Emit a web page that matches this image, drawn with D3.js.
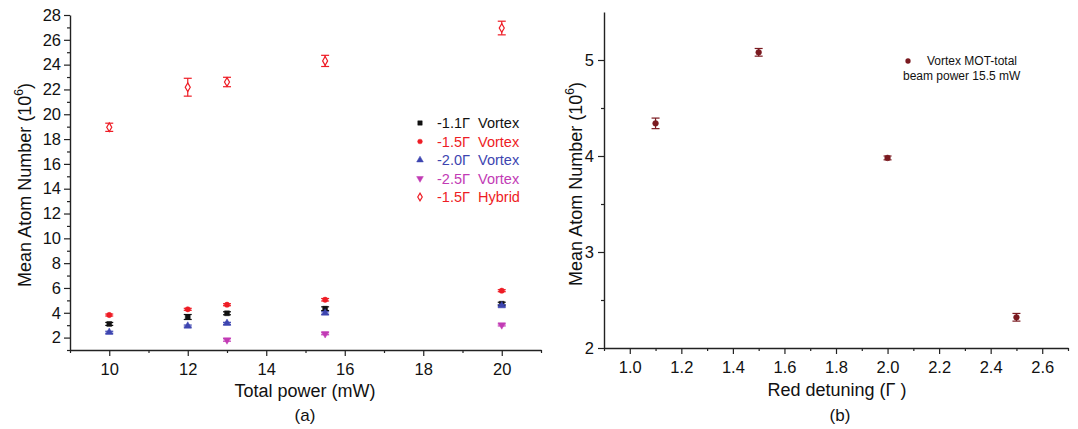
<!DOCTYPE html>
<html>
<head>
<meta charset="utf-8">
<script src="https://cdn.jsdelivr.net/npm/d3@7"></script>
<style>
  body { margin: 0; background: #fff; }
  svg { font-family: "Liberation Sans", Arial, sans-serif; }
</style>
</head>
<body>
<svg id="chart" width="1078" height="429"></svg>
<script>
// ---- data, panel (a)
var powers = [10, 12, 13, 15.5, 20];
var vortex11 = [3.10, 3.66, 3.96, 4.33, 4.73];
var err11 = [0.12, 0.20, 0.12, 0.15, 0.12];
var vortex15 = [3.82, 4.28, 4.65, 5.05, 5.78];
var err15 = [0.08, 0.08, 0.08, 0.1, 0.08];
var vortex20 = [2.43, 2.93, 3.15, 3.98, 4.57];
var err20 = [0.08, 0.08, 0.08, 0.1, 0.08];
var powers25 = [13, 15.5, 20];
var vortex25 = [1.81, 2.31, 3.02];
var err25 = [0.1, 0.08, 0.08];
var hybrid15 = [18.95, 22.18, 22.6, 24.3, 26.95];
var errHybrid = [0.33, 0.72, 0.38, 0.45, 0.55];
var xTicksA = [10, 12, 14, 16, 18, 20];
var yTicksA = [2, 4, 6, 8, 10, 12, 14, 16, 18, 20, 22, 24, 26, 28];

// ---- data, panel (b)
var detuning = [1.1, 1.5, 2.0, 2.5];
var atomsB = [4.34, 5.08, 3.98, 2.32];
var errB = [0.055, 0.04, 0.02, 0.04];
var xTicksB = [1.0, 1.2, 1.4, 1.6, 1.8, 2.0, 2.2, 2.4, 2.6];
var yTicksB = [2, 3, 4, 5];

var svg = d3.select('#chart');

var seriesA = [
  {name: '-1.1\u0393  Vortex', x: powers, y: vortex11, e: err11, color: '#111111', sym: d3.symbolSquare, size: 24, open: false, rot: 0},
  {name: '-1.5\u0393  Vortex', x: powers, y: vortex15, e: err15, color: '#ee1c25', sym: d3.symbolCircle, size: 22, open: false, rot: 0},
  {name: '-2.0\u0393  Vortex', x: powers, y: vortex20, e: err20, color: '#3d45b0', sym: d3.symbolTriangle, size: 24, open: false, rot: 0},
  {name: '-2.5\u0393  Vortex', x: powers25, y: vortex25, e: err25, color: '#c23bb5', sym: d3.symbolTriangle, size: 24, open: false, rot: 180},
  {name: '-1.5\u0393  Hybrid', x: powers, y: hybrid15, e: errHybrid, color: '#ee1c25', sym: d3.symbolDiamond, size: 22, open: true, rot: 0}
];

function styleAxis(g) {
  g.selectAll('path').attr('stroke', '#222').attr('stroke-width', 1.4);
  g.selectAll('line').attr('stroke', '#222').attr('stroke-width', 1.2);
  g.selectAll('text').attr('font-size', 16.5).attr('fill', '#111');
}

function drawPoints(g, xs, ys, s) {
  var pts = s.x.map(function(v, i) { return {x: v, y: s.y[i], e: s.e[i]}; });
  var grp = g.append('g');
  pts.forEach(function(p) {
    var cx = xs(p.x), top = ys(p.y + p.e), bot = ys(p.y - p.e);
    grp.append('line').attr('x1', cx).attr('x2', cx).attr('y1', top).attr('y2', bot)
      .attr('stroke', s.color).attr('stroke-width', 1.2);
    [top, bot].forEach(function(yy) {
      grp.append('line').attr('x1', cx - 4).attr('x2', cx + 4).attr('y1', yy).attr('y2', yy)
        .attr('stroke', s.color).attr('stroke-width', 1.2);
    });
    grp.append('path')
      .attr('d', d3.symbol().type(s.sym).size(s.size)())
      .attr('transform', 'translate(' + cx + ',' + ys(p.y) + ') rotate(' + s.rot + ')')
      .attr('fill', s.open ? '#fff' : s.color)
      .attr('stroke', s.color).attr('stroke-width', s.open ? 1.2 : 0.5);
  });
}

function yTitle(x, y) {
  var t = svg.append('text')
    .attr('transform', 'translate(' + x + ',' + y + ') rotate(-90)')
    .attr('text-anchor', 'middle').attr('font-size', 18).attr('fill', '#111');
  t.append('tspan').text('Mean Atom Number (10');
  t.append('tspan').text('6').attr('font-size', 12).attr('dy', -8);
  t.append('tspan').text(')').attr('dy', 8);
}

// ================= panel (a)
var xA = d3.scaleLinear().domain([9, 21]).range([70, 541]);
var yA = d3.scaleLinear().domain([1, 28]).range([350, 15]);

var gxA = svg.append('g').attr('transform', 'translate(0,350)')
  .call(d3.axisBottom(xA).tickValues(xTicksA).tickSize(6).tickSizeOuter(0).tickPadding(7).tickFormat(d3.format('d')));
styleAxis(gxA);
svg.append('g').attr('transform', 'translate(0,350)')
  .call(d3.axisBottom(xA).tickValues(d3.range(9, 22, 1).filter(function(d) { return d % 2; })).tickSize(3).tickFormat('').tickSizeOuter(0))
  .call(function(g) { g.select('path').remove(); styleAxis(g); });

var gyA = svg.append('g').attr('transform', 'translate(70,0)')
  .call(d3.axisLeft(yA).tickValues(yTicksA).tickSize(6).tickSizeOuter(0).tickPadding(3).tickFormat(d3.format('d')));
styleAxis(gyA);
svg.append('g').attr('transform', 'translate(70,0)')
  .call(d3.axisLeft(yA).tickValues(d3.range(1, 28, 2)).tickSize(3).tickFormat('').tickSizeOuter(0))
  .call(function(g) { g.select('path').remove(); styleAxis(g); });

var plotA = svg.append('g');
seriesA.forEach(function(s) { drawPoints(plotA, xA, yA, s); });

// legend (a)
var legA = svg.append('g').attr('transform', 'translate(420,123)');
seriesA.forEach(function(s, i) {
  var row = legA.append('g').attr('transform', 'translate(0,' + (i * 18.5) + ')');
  row.append('path')
    .attr('d', d3.symbol().type(s.sym).size(s.size * 0.8)())
    .attr('transform', 'rotate(' + s.rot + ')')
    .attr('fill', s.open ? '#fff' : s.color)
    .attr('stroke', s.color).attr('stroke-width', s.open ? 1.2 : 0.5);
  row.append('text').attr('x', 17).attr('y', 5).attr('font-size', 14.5)
    .attr('fill', s.color).attr('xml:space', 'preserve').style('white-space', 'pre').text(s.name);
});

svg.append('text').attr('x', 305).attr('y', 397).attr('text-anchor', 'middle')
  .attr('font-size', 18).attr('fill', '#111').text('Total power (mW)');
svg.append('text').attr('x', 305).attr('y', 421).attr('text-anchor', 'middle')
  .attr('font-size', 17).attr('fill', '#111').text('(a)');
yTitle(31, 185);

// ================= panel (b)
var xB = d3.scaleLinear().domain([0.9, 2.7]).range([604, 1068]);
var yB = d3.scaleLinear().domain([2, 5.5]).range([348, 12]);

var gxB = svg.append('g').attr('transform', 'translate(0,348)')
  .call(d3.axisBottom(xB).tickValues(xTicksB).tickSize(6).tickSizeOuter(0).tickPadding(7).tickFormat(d3.format('.1f')));
styleAxis(gxB);
svg.append('g').attr('transform', 'translate(0,348)')
  .call(d3.axisBottom(xB).tickValues(d3.range(0.9, 2.75, 0.2)).tickSize(3).tickFormat('').tickSizeOuter(0))
  .call(function(g) { g.select('path').remove(); styleAxis(g); });

var gyB = svg.append('g').attr('transform', 'translate(604,0)')
  .call(d3.axisLeft(yB).tickValues(yTicksB).tickSize(6).tickSizeOuter(0).tickPadding(4).tickFormat(d3.format('d')));
styleAxis(gyB);
svg.append('g').attr('transform', 'translate(604,0)')
  .call(d3.axisLeft(yB).tickValues([2.5, 3.5, 4.5]).tickSize(3).tickFormat('').tickSizeOuter(0))
  .call(function(g) { g.select('path').remove(); styleAxis(g); });

var seriesB = {x: detuning, y: atomsB, e: errB, color: '#7a1a20', sym: d3.symbolCircle, size: 26, open: false, rot: 0};
drawPoints(svg.append('g'), xB, yB, seriesB);

var legB = svg.append('g');
legB.append('path').attr('d', d3.symbol().type(d3.symbolCircle).size(22)())
  .attr('transform', 'translate(908,61)').attr('fill', '#7a1a20');
legB.append('text').attr('x', 927).attr('y', 65).attr('font-size', 12).attr('fill', '#111').text('Vortex MOT-total');
legB.append('text').attr('x', 903).attr('y', 80).attr('font-size', 12).attr('fill', '#111').text('beam power 15.5 mW');

svg.append('text').attr('x', 837).attr('y', 396).attr('text-anchor', 'middle')
  .attr('font-size', 18).attr('fill', '#111').text('Red detuning (\u0393 )');
svg.append('text').attr('x', 840).attr('y', 421).attr('text-anchor', 'middle')
  .attr('font-size', 17).attr('fill', '#111').text('(b)');
yTitle(582, 184);
</script>
</body>
</html>
